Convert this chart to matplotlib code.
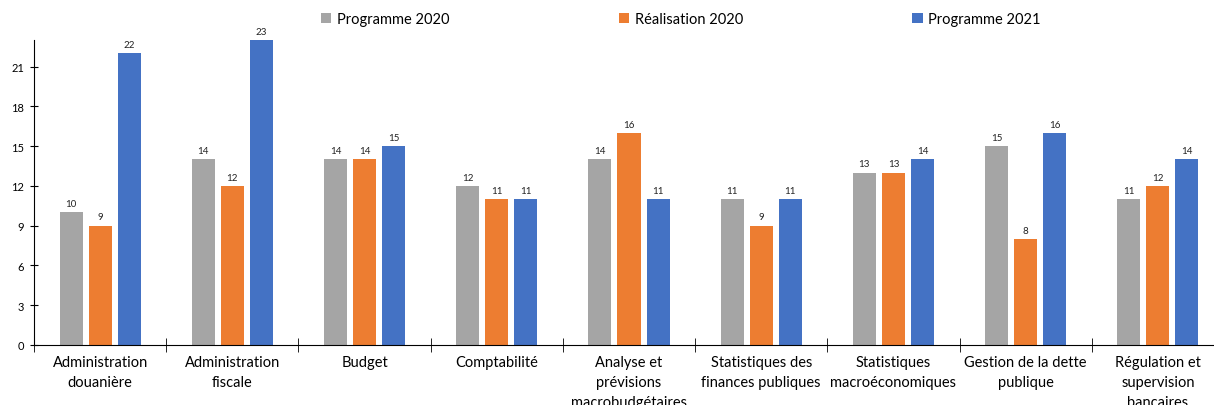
import numpy as np
import matplotlib.pyplot as plt
from matplotlib.ticker import FixedLocator

plt.rcParams['font.family'] = ['Lato', 'DejaVu Sans']

# -------- Data --------
categories = [
    "Administration\ndouanière",
    "Administration\nfiscale",
    "Budget",
    "Comptabilité",
    "Analyse et\nprévisions\nmacrobudgétaires",
    "Statistiques des\nfinances publiques",
    "Statistiques\nmacroéconomiques",
    "Gestion de la dette\npublique",
    "Régulation et\nsupervision\nbancaires",
]
prog_2020 = [10, 14, 14, 12, 14, 11, 13, 15, 11]
real_2020 = [9, 12, 14, 11, 16, 9, 13, 8, 12]
prog_2021 = [22, 23, 15, 11, 11, 11, 14, 16, 14]

series = [
    ("Programme 2020", prog_2020, "#A5A5A5"),
    ("Réalisation 2020", real_2020, "#ED7D31"),
    ("Programme 2021", prog_2021, "#4472C4"),
]

# -------- Figure --------
fig = plt.figure(figsize=(12.14, 4.06), dpi=100)
ax = fig.add_axes([34 / 1214, 60 / 406, 1190 / 1214, 305 / 406])

x = np.arange(len(categories))
width = 0.174
step = 0.22

for i, (name, vals, color) in enumerate(series):
    bars = ax.bar(x + (i - 1) * step, vals, width, color=color, label=name)
    ax.bar_label(bars, labels=[str(v) for v in vals], padding=3, fontsize=7, color="#222222")

ax.set_xlim(-0.5, len(categories) - 0.5)
ax.set_ylim(0, 23)
ax.set_yticks(np.arange(0, 22, 3))
ax.tick_params(axis="y", direction="inout", length=6, labelsize=8, pad=4)

ax.set_xticks(x)
ax.set_xticklabels(categories, fontsize=10.5, linespacing=1.55)
ax.tick_params(axis="x", which="major", length=0, pad=7)
ax.xaxis.set_minor_locator(FixedLocator(np.arange(-0.5, len(categories), 1)))
ax.tick_params(axis="x", which="minor", direction="inout", length=10)

for s in ["top", "right"]:
    ax.spines[s].set_visible(False)

fig.legend(loc="upper left", bbox_to_anchor=(308 / 1214, 1.0), ncol=3, frameon=False,
           fontsize=10.5, handlelength=0.7, handleheight=0.7, handletextpad=0.4,
           columnspacing=11.6)

fig.savefig("out.png", dpi=100)
